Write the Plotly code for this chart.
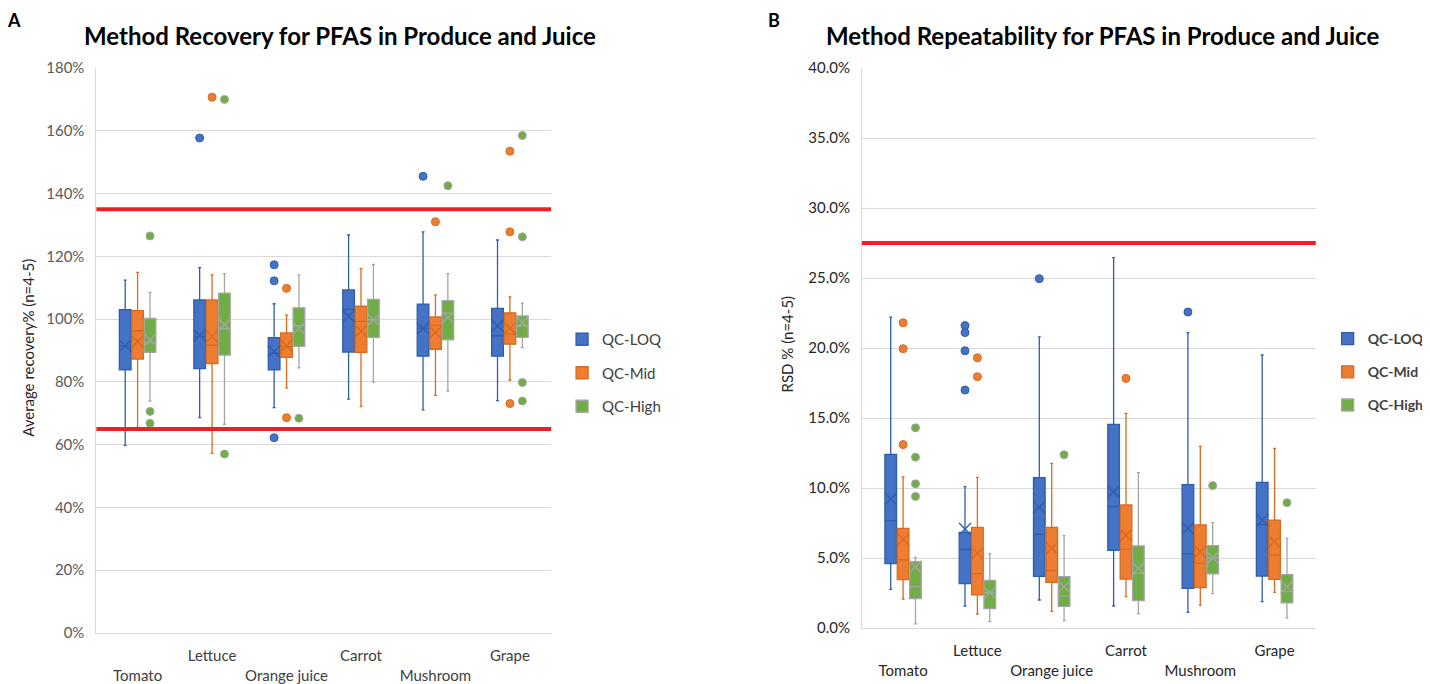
import plotly.graph_objects as go

categories = ["Tomato", "Lettuce", "Orange juice", "Carrot", "Mushroom", "Grape"]
tick_text = ["<br>Tomato", "Lettuce", "<br>Orange juice", "Carrot", "<br>Mushroom", "Grape"]
series_names = ["QC-LOQ", "QC-Mid", "QC-High"]

# ---- Panel A: Average recovery % ----
rec_q1 = {
    "QC-LOQ": [83.8, 84.2, 83.8, 89.5, 88.2, 88.2],
    "QC-Mid": [87.3, 85.8, 87.8, 89.4, 90.4, 92.0],
    "QC-High": [89.4, 88.5, 91.3, 94.2, 93.4, 94.2],
}
rec_median = {
    "QC-LOQ": [91.5, 94.5, 89.1, 103.1, 97.1, 94.7],
    "QC-Mid": [96.3, 91.7, 91.2, 99.3, 98.0, 95.2],
    "QC-High": [92.5, 97.0, 97.9, 99.8, 101.9, 97.9],
}
rec_q3 = {
    "QC-LOQ": [103.0, 106.1, 94.1, 109.3, 104.8, 103.4],
    "QC-Mid": [102.7, 106.1, 95.6, 104.1, 100.7, 102.0],
    "QC-High": [100.2, 108.3, 103.6, 106.3, 105.9, 101.0],
}
rec_low = {
    "QC-LOQ": [59.8, 68.6, 71.8, 74.5, 71.1, 74.0],
    "QC-Mid": [65.5, 57.2, 78.1, 72.1, 75.7, 80.6],
    "QC-High": [73.9, 66.5, 84.5, 79.9, 77.1, 90.9],
}
rec_up = {
    "QC-LOQ": [112.4, 116.4, 104.9, 126.8, 127.8, 125.2],
    "QC-Mid": [114.9, 114.1, 101.3, 116.1, 107.7, 107.1],
    "QC-High": [108.5, 114.5, 114.0, 117.4, 114.5, 105.1],
}
rec_mean = {
    "QC-LOQ": [91.5, 94.8, 89.7, 100.9, 97.1, 97.9],
    "QC-Mid": [92.9, 94.5, 91.5, 96.1, 95.7, 97.1],
    "QC-High": [93.4, 98.2, 97.1, 99.8, 100.6, 98.9],
}
rec_out = {
    "QC-LOQ": [[None], [157.7], [117.3, 112.2, 62.2], [None], [145.5], [None]],
    "QC-Mid": [[None], [170.7], [109.8, 68.6], [None], [131.0], [153.5, 127.8, 73.1]],
    "QC-High": [[126.5, 70.6, 66.8], [170.0, 57.0], [68.4], [None], [142.5], [158.5, 126.2, 79.8, 73.9]],
}
rec_limits = [65, 135]

# ---- Panel B: RSD % ----
rsd_q1 = {
    "QC-LOQ": [4.60, 3.17, 3.69, 5.55, 2.83, 3.71],
    "QC-Mid": [3.45, 2.36, 3.26, 3.50, 2.88, 3.48],
    "QC-High": [2.10, 1.38, 1.55, 1.95, 3.86, 1.79],
}
rsd_median = {
    "QC-LOQ": [7.67, 5.62, 6.69, 8.67, 5.29, 7.38],
    "QC-Mid": [4.86, 3.88, 4.10, 5.64, 4.62, 5.21],
    "QC-High": [2.95, 2.50, 2.29, 3.90, 5.00, 2.60],
}
rsd_q3 = {
    "QC-LOQ": [12.40, 6.83, 10.74, 14.55, 10.24, 10.40],
    "QC-Mid": [7.12, 7.19, 7.19, 8.79, 7.36, 7.71],
    "QC-High": [4.74, 3.40, 3.67, 5.86, 5.88, 3.81],
}
rsd_low = {
    "QC-LOQ": [2.76, 1.57, 2.00, 1.57, 1.12, 1.88],
    "QC-Mid": [2.07, 1.00, 1.19, 2.24, 1.64, 2.55],
    "QC-High": [0.29, 0.45, 0.52, 1.02, 2.45, 0.71],
}
rsd_up = {
    "QC-LOQ": [22.2, 10.1, 20.8, 26.45, 21.1, 19.5],
    "QC-Mid": [10.8, 10.76, 11.76, 15.33, 12.98, 12.83],
    "QC-High": [5.05, 5.31, 6.60, 11.1, 7.52, 6.40],
}
rsd_mean = {
    "QC-LOQ": [9.24, 7.07, 8.62, 9.74, 7.12, 7.71],
    "QC-Mid": [6.33, 5.33, 5.69, 6.62, 5.45, 6.17],
    "QC-High": [4.38, 2.52, 2.95, 4.26, 5.02, 2.95],
}
rsd_out = {
    "QC-LOQ": [[None], [21.6, 21.1, 19.8, 17.0], [24.95], [None], [22.57], [None]],
    "QC-Mid": [[21.8, 19.95, 13.1], [19.3, 17.95], [None], [17.83], [None], [None]],
    "QC-High": [[14.3, 12.2, 10.3, 9.4], [None], [12.38], [None], [10.17], [8.95]],
}
rsd_limit = [27.5]

fill_colors = {"QC-LOQ": "#4472C4", "QC-Mid": "#ED7D31", "QC-High": "#70AD47"}
line_colors = {"QC-LOQ": "#2F5DAE", "QC-Mid": "#D9691F", "QC-High": "#A5A5A5"}

FONT = "Lato, Carlito, Calibri, sans-serif"
fig = go.Figure()

def add_panel(xa, ya, legend, q1, med, q3, low, up, mean, out):
    for s in series_names:
        fig.add_trace(go.Box(
            x=categories, y=out[s],
            q1=q1[s], median=med[s], q3=q3[s],
            lowerfence=low[s], upperfence=up[s],
            name=s, legend=legend, legendgroup=legend + s,
            alignmentgroup=xa, offsetgroup=s,
            fillcolor=fill_colors[s],
            line=dict(color=line_colors[s], width=1.3),
            whiskerwidth=0.25,
            boxpoints="outliers", jitter=0, pointpos=0,
            marker=dict(color=fill_colors[s], size=8,
                        line=dict(color=line_colors[s], width=1)),
            xaxis=xa, yaxis=ya, hoverinfo="skip",
        ))
    for s in series_names:
        fig.add_trace(go.Scatter(
            x=categories, y=mean[s], mode="markers",
            alignmentgroup=xa, offsetgroup=s,
            marker=dict(symbol="x-thin", size=12,
                        line=dict(color=line_colors[s], width=1.4)),
            showlegend=False, xaxis=xa, yaxis=ya, hoverinfo="skip",
        ))

add_panel("x", "y", "legend", rec_q1, rec_median, rec_q3, rec_low, rec_up, rec_mean, rec_out)
add_panel("x2", "y2", "legend2", rsd_q1, rsd_median, rsd_q3, rsd_low, rsd_up, rsd_mean, rsd_out)

# page body has an 8px margin; work in screen pixels of the reference
OFF = 8
W, H = 1422, 676
def px(v):
    return (v - OFF) / W
def py(v):
    return (H - (v - OFF)) / H

for v in rec_limits:
    fig.add_shape(type="line", xref="x domain", yref="y", x0=0, x1=1, y0=v, y1=v,
                  line=dict(color="#EE2024", width=4))
for v in rsd_limit:
    fig.add_shape(type="line", xref="x2 domain", yref="y2", x0=0, x1=1, y0=v, y1=v,
                  line=dict(color="#EE2024", width=4))

xaxis_common = dict(type="category", showgrid=False, showline=True, linecolor="#D9D9D9",
                    linewidth=1, ticks="outside", ticklen=9, tickcolor="rgba(0,0,0,0)",
                    tickvals=categories, ticktext=tick_text, automargin=False,
                    fixedrange=True)
yaxis_common = dict(type="linear", ticksuffix="%", showgrid=True, gridcolor="#D9D9D9", gridwidth=1,
                    showline=True, linecolor="#D9D9D9", zeroline=False,
                    ticks="outside", ticklen=8, tickcolor="rgba(0,0,0,0)", automargin=False)
fig.update_layout(
    width=W, height=H,
    margin=dict(l=0, r=0, t=0, b=0),
    paper_bgcolor="white", plot_bgcolor="white",
    font=dict(family=FONT),
    boxmode="group", boxgap=0.5, boxgroupgap=0.06,
    scattermode="group", scattergap=0.5,
    showlegend=True,
    xaxis=dict(domain=[px(97), px(555)], anchor="y",
               tickfont=dict(size=15, color="#404040"), **xaxis_common),
    xaxis2=dict(domain=[px(868), px(1325)], anchor="y2",
                tickfont=dict(size=15, color="#262626"), **xaxis_common),
    yaxis=dict(domain=[py(633), py(68)], range=[0, 180], tick0=0, dtick=20,
               tickfont=dict(size=15, color="#595959"), anchor="x", **yaxis_common),
    yaxis2=dict(domain=[py(628), py(68)], range=[0, 40], tick0=0, dtick=5, tickformat=".1f",
                tickfont=dict(size=15, color="#262626"), anchor="x2", **yaxis_common),
    legend=dict(x=px(566), y=py(323), xanchor="left", yanchor="top",
                font=dict(size=15, color="#404040"), tracegroupgap=11,
                bgcolor="rgba(0,0,0,0)"),
    legend2=dict(x=px(1337), y=py(323), xanchor="left", yanchor="top",
                 font=dict(size=14, color="#404040", weight="bold"), tracegroupgap=12,
                 bgcolor="rgba(0,0,0,0)"),
)

annotations = [
    dict(text="<b>A</b>", x=px(14), y=py(20), font=dict(size=18, color="black")),
    dict(text="<b>B</b>", x=px(779), y=py(20), font=dict(size=18, color="black")),
    dict(text="<b>Method Recovery for PFAS in Produce and Juice</b>", x=px(342), y=py(36),
         font=dict(size=24, color="black")),
    dict(text="<b>Method Repeatability for PFAS in Produce and Juice</b>", x=px(1110), y=py(36),
         font=dict(size=24, color="black")),
    dict(text="Average recovery% (n=4-5)", x=px(28), y=py(348), textangle=-90,
         font=dict(size=15, color="#262626")),
    dict(text="RSD % (n=4-5)", x=px(793), y=py(344), textangle=-90,
         font=dict(size=15, color="#262626")),
]
for a in annotations:
    fig.add_annotation(xref="paper", yref="paper", showarrow=False,
                       xanchor="center", yanchor="middle", **a)

fig.write_html("out.html")
